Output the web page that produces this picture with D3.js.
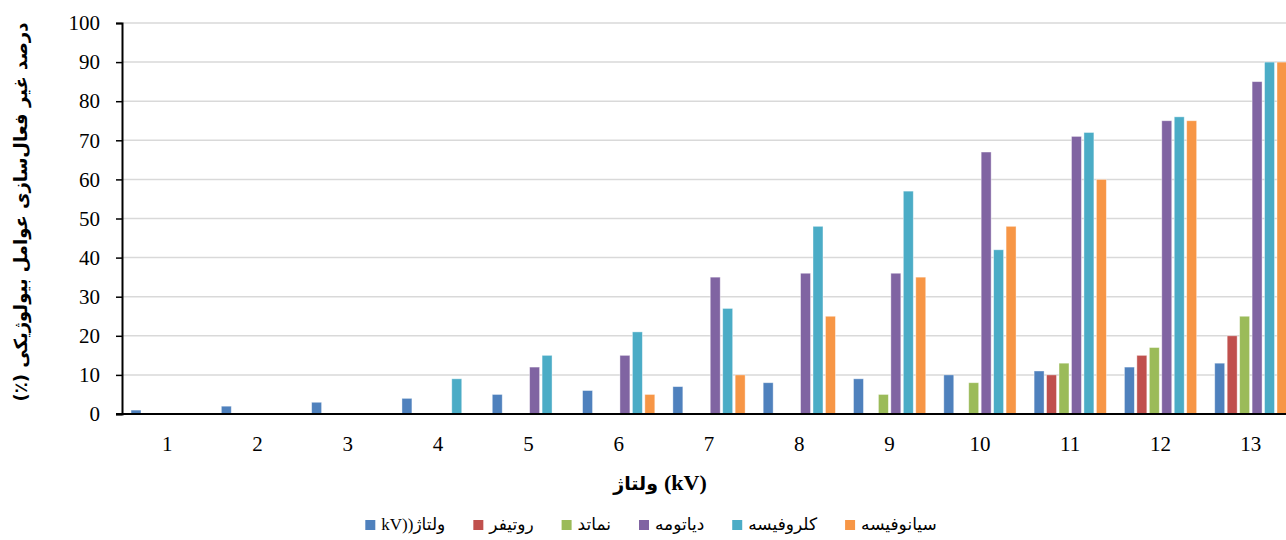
<!DOCTYPE html>
<html>
<head>
<meta charset="utf-8">
<script src="https://cdn.jsdelivr.net/npm/d3@7"></script>
<style>
  body { margin: 0; background: #fff; }
  svg { display: block; }
</style>
</head>
<body>
<div id="chart"></div>
<script>
// categories (voltage steps)
const categories = ['1','2','3','4','5','6','7','8','9','10','11','12','13'];
// series names, as in the legend
const seriesNames = ['kV))ولتاژ', 'روتیفر', 'نماتد', 'دیاتومه', 'کلروفیسه', 'سیانوفیسه'];
const seriesColors = ['#4F81BD', '#C0504D', '#9BBB59', '#8064A2', '#4BACC6', '#F79646'];
// values per series
const voltage    = [1, 2, 3, 4, 5, 6, 7, 8, 9, 10, 11, 12, 13];
const rotifer    = [0, 0, 0, 0, 0, 0, 0, 0, 0, 0, 10, 15, 20];
const nematode   = [0, 0, 0, 0, 0, 0, 0, 0, 5, 8, 13, 17, 25];
const diatom     = [0, 0, 0, 0, 12, 15, 35, 36, 36, 67, 71, 75, 85];
const chlorophyc = [0, 0, 0, 9, 15, 21, 27, 48, 57, 42, 72, 76, 90];
const cyanophyc  = [0, 0, 0, 0, 0, 5, 10, 25, 35, 48, 60, 75, 90];
const yTicks = [0, 10, 20, 30, 40, 50, 60, 70, 80, 90, 100];

const allSeries = [voltage, rotifer, nematode, diatom, chlorophyc, cyanophyc];

const width = 1286, height = 540;
const plotLeft = 122, plotTop = 23, plotBottom = 414, plotRight = 1296;

const svg = d3.select('#chart').append('svg')
  .attr('width', width)
  .attr('height', height);

const x0 = d3.scaleBand().domain(categories).range([plotLeft, plotRight])
  .paddingInner(0.2).paddingOuter(0.1);
const x1 = d3.scaleBand().domain(d3.range(seriesNames.length))
  .range([0, x0.bandwidth()]).paddingInner(0.2);
const y = d3.scaleLinear().domain([0, 100]).range([plotBottom, plotTop]);

// grid lines
svg.append('g')
  .selectAll('line')
  .data(yTicks.filter(d => d > 0))
  .enter().append('line')
  .attr('x1', plotLeft).attr('x2', width)
  .attr('y1', d => y(d)).attr('y2', d => y(d))
  .attr('stroke', '#D9D9D9')
  .attr('stroke-width', 1.5);

// bars
const groups = svg.append('g')
  .selectAll('g')
  .data(categories)
  .enter().append('g')
  .attr('transform', d => `translate(${x0(d)},0)`);

groups.selectAll('rect')
  .data((c, ci) => allSeries.map((s, si) => ({ si: si, v: s[ci] })).filter(d => d.v > 0))
  .enter().append('rect')
  .attr('x', d => x1(d.si))
  .attr('width', x1.bandwidth())
  .attr('y', d => y(d.v))
  .attr('height', d => y(0) - y(d.v))
  .attr('fill', d => seriesColors[d.si])
  .attr('stroke', 'rgba(255,255,255,0.5)')
  .attr('stroke-width', 0.8);

// y axis
const yAxis = d3.axisLeft(y).tickValues(yTicks).tickSize(6).tickPadding(16);
const gy = svg.append('g')
  .attr('transform', `translate(${plotLeft},0)`)
  .call(yAxis);
gy.select('.domain').attr('stroke', '#000').attr('stroke-width', 2);
gy.selectAll('.tick line').attr('stroke', '#000').attr('stroke-width', 1.5);
gy.selectAll('.tick text')
  .attr('font-family', '"Liberation Serif", "Times New Roman", serif')
  .attr('font-size', 21)
  .attr('fill', '#000');

// x axis
const xAxis = d3.axisBottom(x0).tickSize(0).tickPadding(22);
const gx = svg.append('g')
  .attr('transform', `translate(0,${plotBottom})`)
  .call(xAxis);
gx.select('.domain').remove();
gx.append('line')
  .attr('x1', plotLeft - 6).attr('x2', width)
  .attr('stroke', '#000').attr('stroke-width', 2);
gx.selectAll('.tick text')
  .attr('font-family', '"Liberation Serif", "Times New Roman", serif')
  .attr('font-size', 21)
  .attr('fill', '#000');

// x axis title: Persian word + "(kV)" in serif
const xTitle = svg.append('g');
const xWord = xTitle.append('text')
  .attr('font-family', '"DejaVu Sans", sans-serif')
  .attr('font-weight', 'bold')
  .attr('font-size', 19)
  .text('ولتاژ');
const xUnit = xTitle.append('text')
  .attr('font-family', '"Liberation Serif", serif')
  .attr('font-weight', 'bold')
  .attr('font-size', 22)
  .text('(kV)');
const wWord = xWord.node().getComputedTextLength();
const wUnit = xUnit.node().getComputedTextLength();
const gap = 6;
const xStart = 660 - (wWord + gap + wUnit) / 2;
xWord.attr('x', xStart).attr('y', 490);
xUnit.attr('x', xStart + wWord + gap).attr('y', 490);

svg.append('text')
  .attr('transform', 'translate(27,212) rotate(-90)')
  .attr('text-anchor', 'middle')
  .attr('direction', 'rtl')
  .attr('unicode-bidi', 'embed')
  .attr('font-family', '"DejaVu Sans", sans-serif')
  .attr('font-weight', 'bold')
  .attr('font-size', 18)
  .text('درصد غیر فعال‌سازی عوامل بیولوژیکی (٪)');

// legend
const legend = svg.append('g');
const items = legend.selectAll('g')
  .data(seriesNames)
  .enter().append('g');
items.append('rect')
  .attr('width', 10).attr('height', 10)
  .attr('y', -10)
  .attr('fill', (d, i) => seriesColors[i]);
items.append('text')
  .attr('x', 16)
  .attr('font-family', '"Liberation Serif", "DejaVu Sans", serif')
  .attr('font-size', 17)
  .attr('fill', '#000')
  .text(d => d);

let pos = 0;
items.each(function() {
  const w = d3.select(this).select('text').node().getComputedTextLength();
  d3.select(this).attr('transform', `translate(${pos},0)`);
  pos += 16 + w + 28;
});
const total = pos - 28;
legend.attr('transform', `translate(${651 - total / 2},530)`);
</script>
</body>
</html>
